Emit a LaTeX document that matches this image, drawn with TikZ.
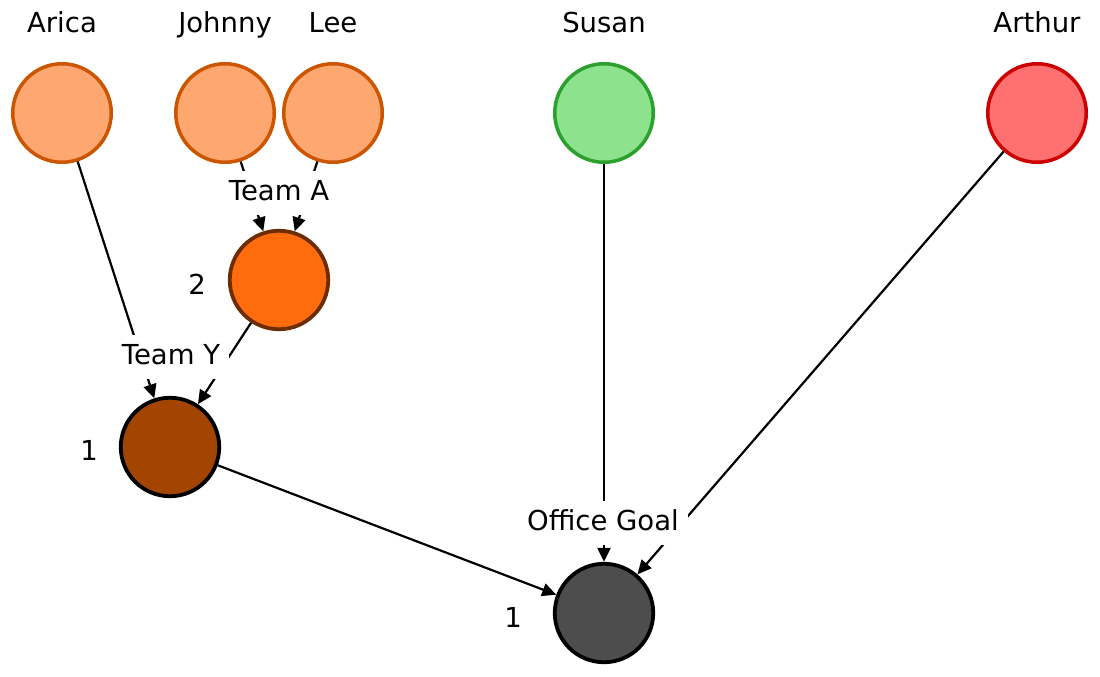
\documentclass[tikz,border=0pt]{standalone}
\usepackage{fontspec}
\setmainfont{DejaVu Sans}
\usetikzlibrary{arrows.meta}
\definecolor{lorange}{HTML}{FFA770}
\definecolor{lorangeS}{HTML}{CC5500}
\definecolor{lgreen}{HTML}{8DE28D}
\definecolor{lgreenS}{HTML}{2CA02C}
\definecolor{lred}{HTML}{FF7070}
\definecolor{lredS}{HTML}{CC0000}
\definecolor{midorange}{HTML}{FF6C0E}
\definecolor{midorangeS}{HTML}{6E2D00}
\definecolor{brownf}{HTML}{A34400}
\definecolor{goalf}{HTML}{4D4D4D}
\begin{document}
\begin{tikzpicture}[x=1pt,y=-1pt,
  every node/.style={font=\fontsize{27.5}{32}\selectfont},
  person/.style={circle,minimum size=98.5pt,inner sep=0pt,line width=3.5pt},
  orangeP/.style={person,draw=lorangeS,fill=lorange},
  edge/.style={line width=2.2pt,-{Triangle[length=14pt,width=13pt]}},
  grplbl/.style={fill=white,inner sep=9pt,text height=20pt,text depth=6pt},
  namelbl/.style={anchor=base},
  numlbl/.style={anchor=base}
]
\useasboundingbox (0,0) rectangle (1100,677);
% people
\node[orangeP] (arica) at (62,113) {};
\node[orangeP] (johnny) at (225,113) {};
\node[orangeP] (lee) at (333,113) {};
\node[person,draw=lgreenS,fill=lgreen] (susan) at (604,113) {};
\node[person,draw=lredS,fill=lred] (arthur) at (1037,113) {};
\node[namelbl] (tArica) at (62,33) {Arica};
\node[namelbl] (tJohnny) at (225,33) {Johnny};
\node[namelbl] (tLee) at (333,33) {Lee};
\node[namelbl] (tSusan) at (604,33) {Susan};
\node[namelbl] (tArthur) at (1037,33) {Arthur};
% groups
\node[person,draw=midorangeS,fill=midorange,line width=3.8pt] (teamA) at (279,280) {};
\node[person,draw=black,fill=brownf,line width=3.8pt] (teamY) at (170,447) {};
\node[person,draw=black,fill=goalf,line width=3.8pt] (goal) at (604,613) {};
\node[numlbl] (nA) at (197,294) {2};
\node[numlbl] (nY) at (89,460) {1};
\node[numlbl] (nG) at (513,627) {1};
% edges
\draw[edge] (johnny) -- (teamA);
\draw[edge] (lee) -- (teamA);
\draw[edge] (arica) -- (teamY);
\draw[edge] (teamA) -- (teamY);
\draw[edge] (susan) -- (goal);
\draw[edge] (arthur) -- (goal);
\draw[edge] (teamY) -- (goal);
% edge group labels
\node[grplbl] (lA) at (279,193) {Team A};
\node[grplbl] (lY) at (171,357) {Team Y};
\node[grplbl] (lG) at (603,523) {Office Goal};
\end{tikzpicture}
\end{document}
